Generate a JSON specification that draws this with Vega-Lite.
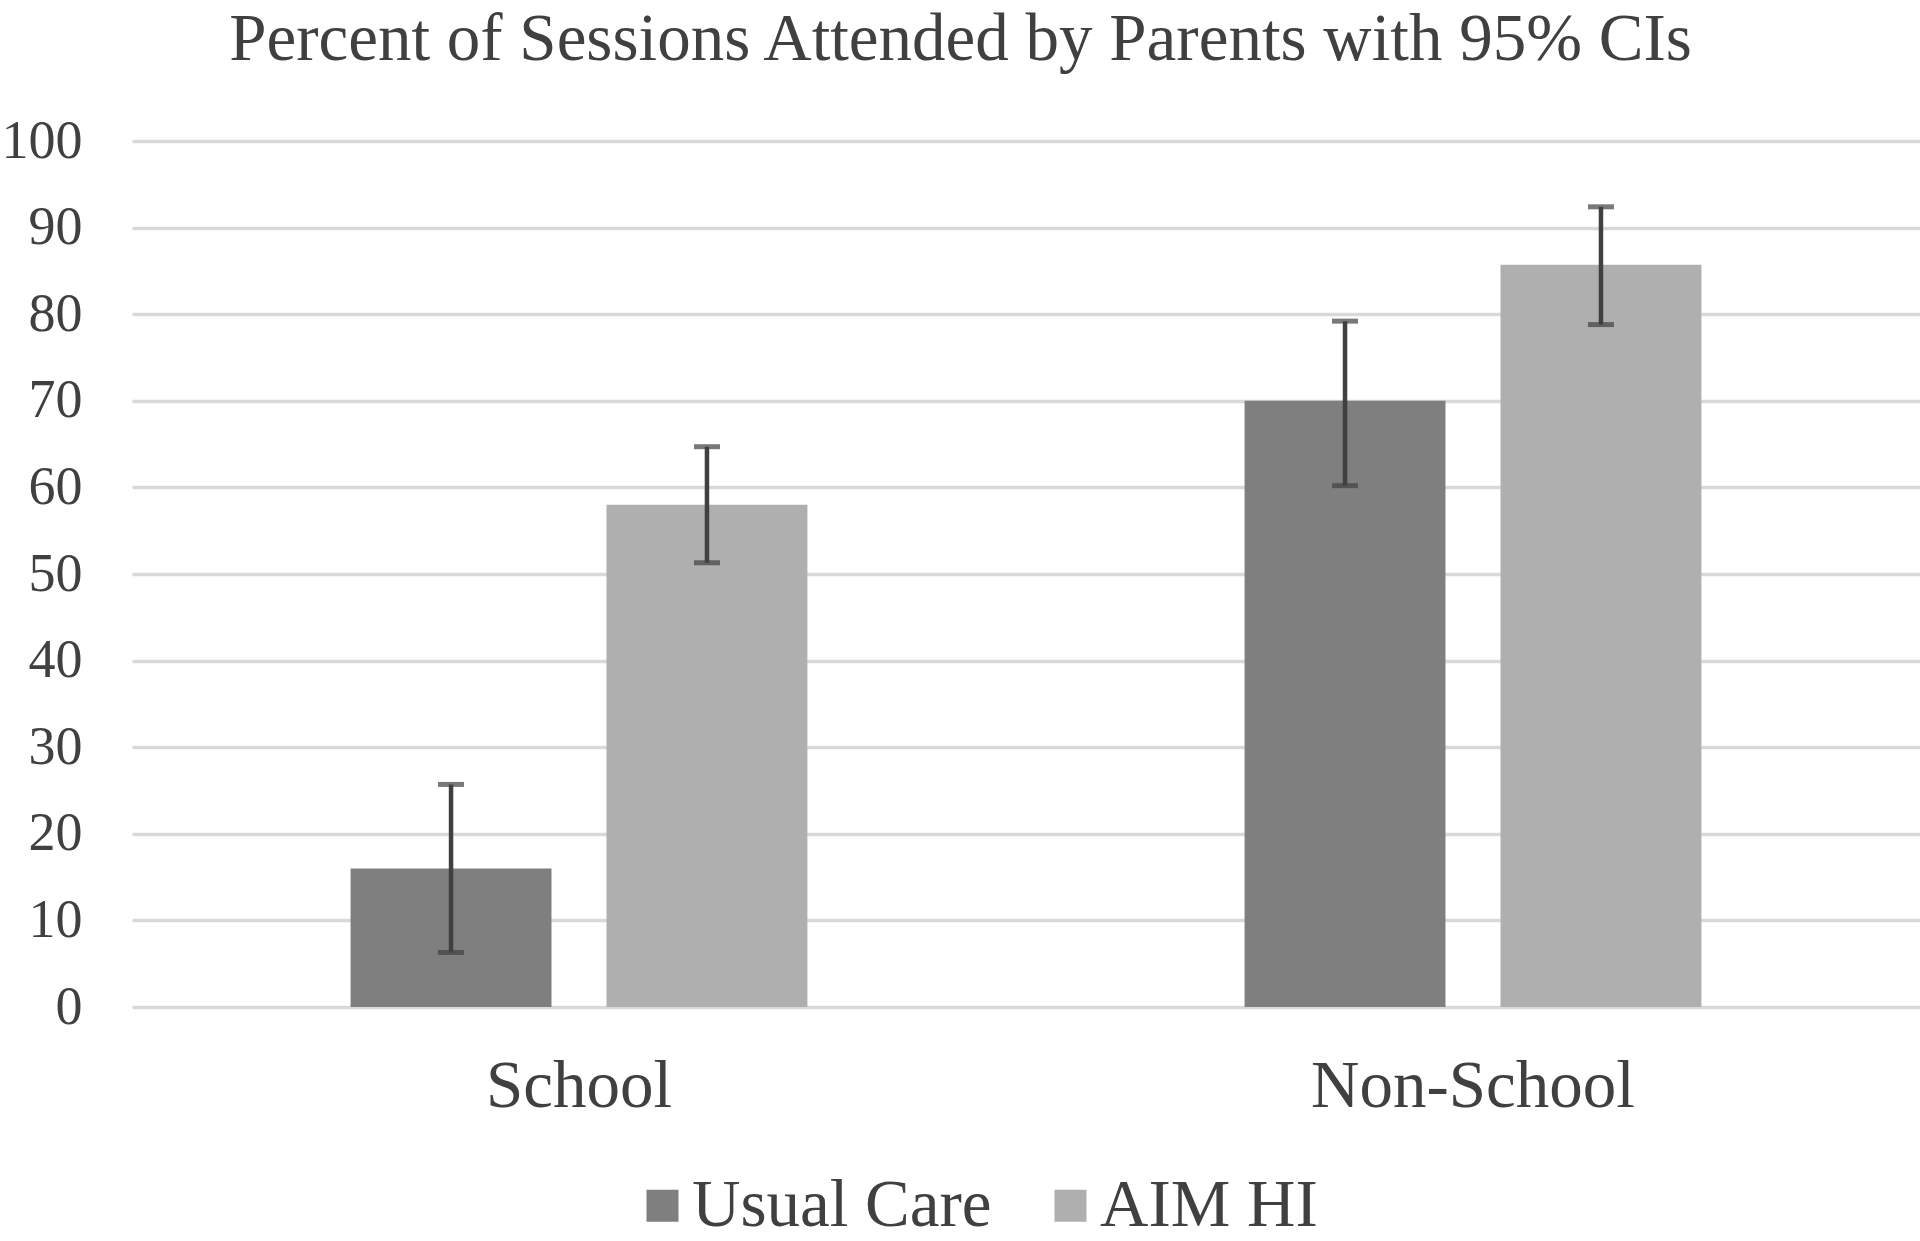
{
  "$schema": "https://vega.github.io/schema/vega-lite/v6.json",
  "width": 1788,
  "height": 866,
  "autosize": {"type": "none"},
  "padding": {"left": 132, "top": 141, "right": 0, "bottom": 234},
  "background": "white",
  "config": {
    "font": "Liberation Serif",
    "view": {"stroke": null}
  },
  "title": {
    "text": "Percent of Sessions Attended by Parents with 95% CIs",
    "fontSize": 67,
    "font": "Liberation Serif",
    "fontWeight": "normal",
    "color": "#404040",
    "anchor": "middle",
    "frame": "bounds",
    "offset": 40
  },
  "data": {
    "values": [
      {"setting": "School", "group": "Usual Care", "pct": 16, "lo": 6.3, "hi": 25.7},
      {"setting": "School", "group": "AIM HI", "pct": 58, "lo": 51.3, "hi": 64.7},
      {"setting": "Non-School", "group": "Usual Care", "pct": 70, "lo": 60.2, "hi": 79.2},
      {"setting": "Non-School", "group": "AIM HI", "pct": 85.7, "lo": 78.8, "hi": 92.4}
    ]
  },
  "encoding": {
    "x": {
      "field": "setting",
      "type": "nominal",
      "sort": ["School", "Non-School"],
      "scale": {"paddingInner": 0.489, "paddingOuter": 0.2445},
      "axis": {
        "title": null,
        "labelAngle": 0,
        "labelFontSize": 67,
        "labelFont": "Liberation Serif",
        "labelColor": "#404040",
        "labelPadding": 46,
        "labelLimit": 900,
        "ticks": false,
        "domain": false,
        "grid": false
      }
    },
    "xOffset": {
      "field": "group",
      "type": "nominal",
      "sort": ["Usual Care", "AIM HI"],
      "scale": {"paddingInner": 0.215, "paddingOuter": 0}
    }
  },
  "layer": [
    {
      "mark": {"type": "bar"},
      "encoding": {
        "y": {
          "field": "pct",
          "type": "quantitative",
          "scale": {"domain": [0, 100], "nice": false},
          "axis": {
            "title": null,
            "values": [0, 10, 20, 30, 40, 50, 60, 70, 80, 90, 100],
            "labelFontSize": 54,
            "labelFont": "Liberation Serif",
            "labelColor": "#404040",
            "labelPadding": 50,
            "ticks": false,
            "domain": false,
            "grid": true,
            "gridColor": "#d9d9d9",
            "gridWidth": 3.5
          }
        },
        "color": {
          "field": "group",
          "type": "nominal",
          "sort": ["Usual Care", "AIM HI"],
          "scale": {"domain": ["Usual Care", "AIM HI"], "range": ["#7f7f7f", "#afafaf"]},
          "legend": {
            "title": null,
            "orient": "none",
            "direction": "horizontal",
            "legendX": 497,
            "legendY": 1031,
            "symbolType": "square",
            "symbolSize": 1024,
            "symbolStrokeWidth": 0,
            "labelFontSize": 67,
            "labelFont": "Liberation Serif",
            "labelColor": "#404040",
            "labelOffset": -4,
            "columnPadding": 45,
            "labelLimit": 600
          }
        }
      }
    },
    {
      "mark": {"type": "rule", "color": "#404040", "strokeWidth": 4.5},
      "encoding": {
        "y": {"field": "lo", "type": "quantitative"},
        "y2": {"field": "hi"}
      }
    },
    {
      "mark": {"type": "tick", "color": "#404040", "size": 26, "thickness": 5, "orient": "horizontal"},
      "encoding": {
        "y": {"field": "lo", "type": "quantitative"}
      }
    },
    {
      "mark": {"type": "tick", "color": "#404040", "size": 26, "thickness": 5, "orient": "horizontal"},
      "encoding": {
        "y": {"field": "hi", "type": "quantitative"}
      }
    }
  ]
}
